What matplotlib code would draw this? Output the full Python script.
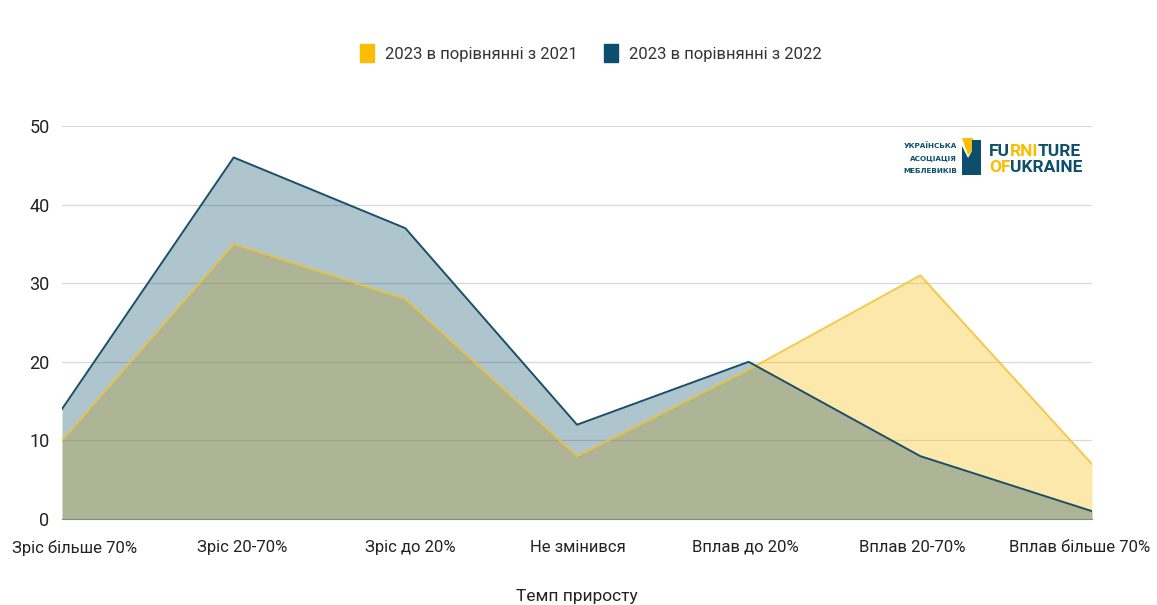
import matplotlib.pyplot as plt
import matplotlib.patches as mpatches
import numpy as np

plt.rcParams['font.family'] = ['Roboto', 'DejaVu Sans']

categories = ["Зріс більше 70%", "Зріс 20-70%", "Зріс до 20%", "Не змінився",
              "Вплав до 20%", "Вплав 20-70%", "Вплав більше 70%"]
vs_2021 = [10, 35, 28, 8, 19, 31, 7]
vs_2022 = [14, 46, 37, 12, 20, 8, 1]
series_labels = ["2023 в порівнянні з 2021", "2023 в порівнянні з 2022"]

YELLOW = "#fbbc04"
BLUE = "#0b4f6c"

fig = plt.figure(figsize=(11.57, 6.05), dpi=100)
ax = fig.add_axes([0.0536, 0.1421, 0.8902, 0.6496])

x = np.arange(len(categories))
ax.fill_between(x, 0, vs_2021, color=YELLOW, alpha=0.33, linewidth=0, zorder=2)
ax.fill_between(x, 0, vs_2022, color=BLUE, alpha=0.33, linewidth=0, zorder=3)
ax.plot(x, vs_2021, color="#f0c232", linewidth=1.4, alpha=0.85, zorder=4)
ax.plot(x, vs_2022, color="#1b4f68", linewidth=1.4, zorder=5)

ax.set_xlim(0, 6)
ax.set_ylim(0, 50)
ax.set_yticks([0, 10, 20, 30, 40, 50])
# category labels are squeezed inward so the outer ones stay inside the figure
ax.set_xticks(np.linspace(0.075, 5.93, len(categories)))
ax.set_xticklabels(categories, fontsize=12, color="#222222")
ax.tick_params(axis="y", labelsize=13, colors="#222222", length=0, pad=9)
ax.tick_params(axis="x", length=0, pad=15)
ax.grid(axis="y", color="#d9d9d9", linewidth=0.9, zorder=0)
for s in ["top", "right", "left"]:
    ax.spines[s].set_visible(False)
ax.spines["bottom"].set_color("#888888")
ax.spines["bottom"].set_zorder(6)
ax.set_xlabel("Темп приросту", fontsize=12.5, color="#222222", labelpad=24)

handles = [mpatches.Patch(color=YELLOW, label=series_labels[0]),
           mpatches.Patch(color=BLUE, label=series_labels[1])]
fig.legend(handles=handles, loc="center", bbox_to_anchor=(0.511, 0.912), ncol=2,
           frameon=False, fontsize=12, handlelength=0.8, handleheight=1.3,
           handletextpad=0.7, columnspacing=1.6, labelcolor="#333333")

# logo overlay in pixel coordinates
lg = fig.add_axes([0, 0, 1, 1], zorder=10)
lg.set_xlim(0, 1157)
lg.set_ylim(605, 0)
lg.axis("off")
for i, t in enumerate(["УКРАЇНСЬКА", "АСОЦІАЦІЯ", "МЕБЛЕВИКІВ"]):
    lg.text(957, 146 + i * 12.5, t, ha="right", va="center", fontsize=5.2,
            fontweight="bold", color=BLUE, family=["DejaVu Sans"])
lg.add_patch(mpatches.Polygon([(962, 138), (973, 138), (973, 150), (968, 155)],
                              closed=True, color=YELLOW, lw=0))
lg.add_patch(mpatches.Polygon([(962, 146), (968, 158), (972, 151), (972, 140),
                               (981, 140), (981, 175), (962, 175)],
                              closed=True, color=BLUE, lw=0))
for y0, parts in [(151, [("FU", BLUE), ("RNI", YELLOW), ("TURE", BLUE)]),
                  (168, [("OF", YELLOW), ("UKRAINE", BLUE)])]:
    fx = 989
    for part, col in parts:
        t = lg.text(fx, y0, part, ha="left", va="center", fontsize=12.5,
                    fontweight="bold", color=col, family=["Roboto"])
        fig.canvas.draw()
        fx += t.get_window_extent().width - 0.5

fig.savefig("out.png", dpi=100)
